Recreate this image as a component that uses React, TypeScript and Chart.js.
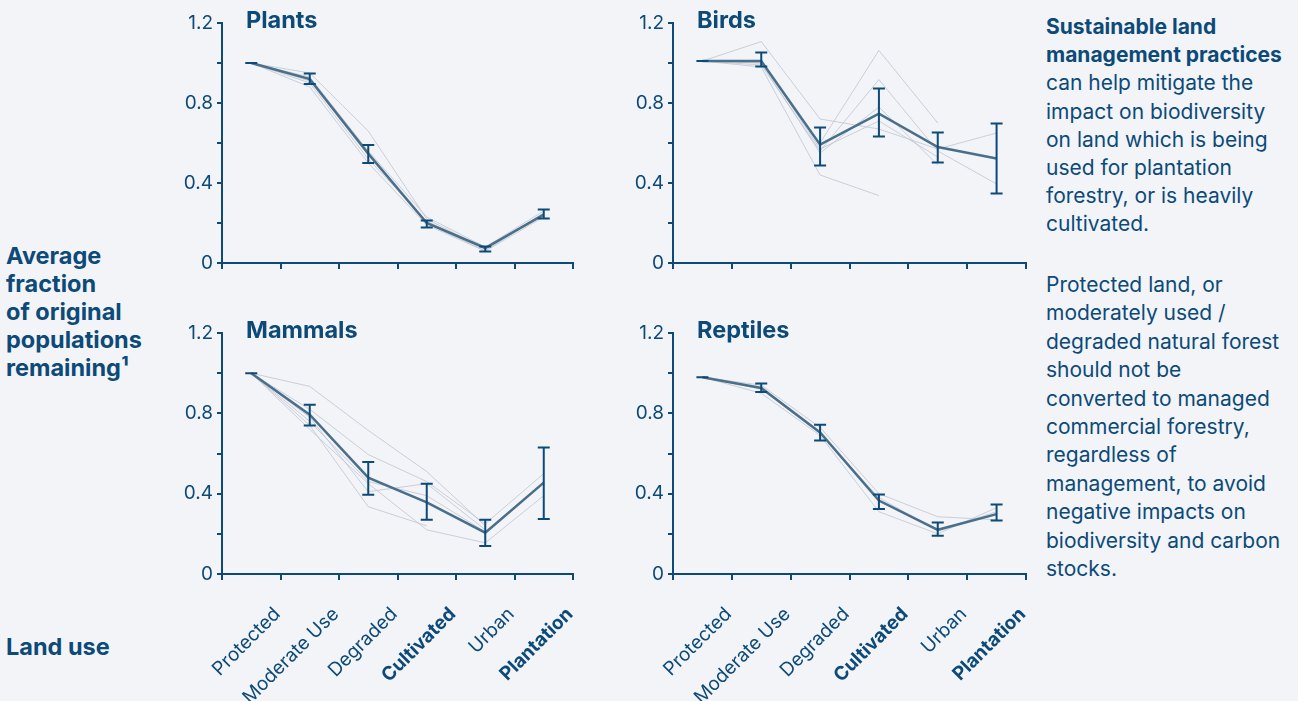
import React, { useEffect, useRef } from 'react';
import { Chart, registerables } from 'chart.js';
Chart.register(...registerables);

const NAVY = '#0d4a78';
const MAIN = '#4a6f8b';
const GRAY = 'rgba(188,194,205,0.75)';
const BG = '#f2f4f8';

const categories = ['Protected', 'Moderate Use', 'Degraded', 'Cultivated', 'Urban', 'Plantation'];
const boldCategories = ['Cultivated', 'Plantation'];
const yLabeledTicks = [0, 0.4, 0.8, 1.2];

// Plants
const plantsMean = [1.0, 0.92, 0.547, 0.2, 0.075, 0.242];
const plantsLow = [1.0, 0.895, 0.5, 0.177, 0.058, 0.222];
const plantsHigh = [1.0, 0.947, 0.59, 0.213, 0.083, 0.267];
const plantsG1 = [1.0, 0.95, 0.66, 0.22, 0.07, 0.25];
const plantsG2 = [1.0, 0.93, 0.56, 0.23, 0.08, 0.26];
const plantsG3 = [1.0, 0.9, 0.52, 0.21, 0.07, 0.24];
const plantsG4 = [1.0, 0.88, 0.5, 0.19, 0.06, 0.23];
const plantsG5 = [1.0, 0.91, 0.54, 0.2, 0.06, 0.25];

// Birds
const birdsMean = [1.01, 1.01, 0.592, 0.747, 0.58, 0.523];
const birdsLow = [1.01, 0.983, 0.488, 0.633, 0.502, 0.348];
const birdsHigh = [1.01, 1.053, 0.678, 0.872, 0.653, 0.698];
const birdsG1 = [1.01, 1.107, 0.72, 0.67, 0.57, 0.65];
const birdsG2 = [1.01, 0.98, 0.44, 0.337, null, null];
const birdsG3 = [1.01, 1.0, 0.6, 1.063, 0.7, null];
const birdsG4 = [1.01, 0.99, 0.56, 0.917, 0.56, 0.395];
const birdsG5 = [1.01, 1.0, 0.55, 0.78, 0.49, null];
const birdsG6 = [1.01, 1.01, 0.57, 0.71, 0.53, null];

// Mammals
const mammalsMean = [1.0, 0.793, 0.48, 0.357, 0.206, 0.455];
const mammalsLow = [1.0, 0.74, 0.394, 0.27, 0.14, 0.274];
const mammalsHigh = [1.0, 0.843, 0.558, 0.45, 0.27, 0.63];
const mammalsG1 = [1.0, 0.934, 0.715, 0.51, 0.24, null];
const mammalsG2 = [1.0, 0.82, 0.595, 0.46, 0.25, 0.5];
const mammalsG3 = [1.0, 0.78, 0.41, 0.45, 0.22, null];
const mammalsG4 = [1.0, 0.74, 0.335, 0.24, null, null];
const mammalsG5 = [1.0, 0.72, 0.45, 0.22, 0.155, 0.39];
const mammalsG6 = [1.0, 0.76, 0.46, 0.39, 0.21, 0.46];

// Reptiles
const reptilesMean = [0.98, 0.926, 0.705, 0.366, 0.22, 0.298];
const reptilesLow = [0.98, 0.906, 0.665, 0.324, 0.19, 0.266];
const reptilesHigh = [0.98, 0.949, 0.743, 0.396, 0.256, 0.346];
const reptilesG1 = [0.98, 0.94, 0.73, 0.4, 0.285, 0.27];
const reptilesG2 = [0.98, 0.9, 0.69, 0.31, 0.2, 0.33];
const reptilesG3 = [0.98, 0.92, 0.7, 0.38, 0.215, 0.31];

const errorBarPlugin = {
  id: 'errorBars',
  afterDatasetsDraw(chart: any, _args: any, opts: any) {
    const low = opts.low as number[];
    const high = opts.high as number[];
    if (!low || !high) return;
    const ctx = chart.ctx;
    const xs = chart.scales.x;
    const ys = chart.scales.y;
    ctx.save();
    ctx.strokeStyle = NAVY;
    ctx.lineWidth = 2;
    for (let i = 0; i < low.length; i++) {
      const x = xs.getPixelForValue(i);
      const y1 = ys.getPixelForValue(low[i]);
      const y2 = ys.getPixelForValue(high[i]);
      ctx.beginPath();
      ctx.moveTo(x, y1);
      ctx.lineTo(x, y2);
      ctx.moveTo(x - 6, y1);
      ctx.lineTo(x + 6, y1);
      ctx.moveTo(x - 6, y2);
      ctx.lineTo(x + 6, y2);
      ctx.stroke();
    }
    ctx.restore();
  },
};

type PanelProps = {
  title: string;
  left: number;
  top: number;
  width: number;
  height: number;
  yWidth: number;
  padTop: number;
  padRight: number;
  xHeight: number;
  showLabels: boolean;
  mean: number[];
  low: number[];
  high: number[];
  grays: (number | null)[][];
};

function Panel(p: PanelProps) {
  const ref = useRef<HTMLCanvasElement>(null);
  useEffect(() => {
    if (!ref.current) return;
    const chart = new Chart(ref.current, {
      type: 'line',
      data: {
        labels: categories,
        datasets: [
          {
            data: p.mean,
            borderColor: MAIN,
            borderWidth: 2.5,
            pointRadius: 0,
            tension: 0,
          },
          ...p.grays.map((g) => ({
            data: g,
            borderColor: GRAY,
            borderWidth: 1,
            pointRadius: 0,
            tension: 0,
            spanGaps: false,
          })),
        ],
      },
      options: {
        animation: false,
        responsive: false,
        maintainAspectRatio: false,
        events: [],
        layout: { padding: { left: 0, top: p.padTop, right: p.padRight, bottom: 0 } },
        plugins: {
          legend: { display: false },
          tooltip: { enabled: false },
          errorBars: { low: p.low, high: p.high },
        } as any,
        scales: {
          x: {
            type: 'category',
            offset: true,
            grid: {
              display: true,
              drawOnChartArea: false,
              offset: true,
              tickLength: 6,
              color: NAVY,
              lineWidth: 2,
            },
            border: { display: true, color: NAVY, width: 2 },
            ticks: {
              display: p.showLabels,
              autoSkip: false,
              minRotation: 45,
              maxRotation: 45,
              labelOffset: 26,
              padding: 23,
              color: NAVY,
              font: (ctx: any) => ({
                family: 'Inter',
                size: 19,
                weight: boldCategories.includes(categories[ctx.index]) ? 'bold' : 'normal',
              }),
            },
            afterFit: (s: any) => {
              s.height = p.xHeight;
            },
          },
          y: {
            min: 0,
            max: 1.2,
            grid: {
              display: true,
              drawOnChartArea: false,
              tickLength: 5,
              color: NAVY,
              lineWidth: 2,
            },
            border: { display: true, color: NAVY, width: 2 },
            ticks: {
              stepSize: 0.2,
              padding: 4,
              color: NAVY,
              font: { family: 'Inter', size: 19 },
              callback: (v: any) => {
                const n = Number(v);
                const hit = yLabeledTicks.find((t) => Math.abs(t - n) < 1e-6);
                if (hit === undefined) return '';
                return hit === 0 ? '0' : hit.toFixed(1);
              },
            },
            afterFit: (s: any) => {
              s.width = p.yWidth;
            },
          },
        },
      },
      plugins: [errorBarPlugin as any],
    });
    return () => chart.destroy();
  }, []);
  return (
    <>
      <canvas
        ref={ref}
        width={p.width}
        height={p.height}
        style={{ position: 'absolute', left: p.left, top: p.top, width: p.width, height: p.height }}
      />
      <div
        style={{
          position: 'absolute',
          left: p.left + p.yWidth + 24,
          top: p.top + p.padTop - 15,
          fontSize: 23.5,
          lineHeight: '24px',
          fontWeight: 700,
          whiteSpace: 'nowrap',
        }}
      >
        {p.title}
      </div>
    </>
  );
}

export default function App() {
  return (
    <div
      style={{
        position: 'fixed',
        left: 0,
        top: 0,
        width: 1298,
        height: 701,
        background: BG,
        color: NAVY,
        fontFamily: 'Inter, sans-serif',
        overflow: 'hidden',
      }}
    >
      <div
        style={{
          position: 'absolute',
          left: 6,
          top: 242,
          fontSize: 23.5,
          lineHeight: '28px',
          fontWeight: 700,
          whiteSpace: 'nowrap',
        }}
      >
        Average
        <br />
        fraction
        <br />
        of original
        <br />
        populations
        <br />
        remaining¹
      </div>
      <div
        style={{
          position: 'absolute',
          left: 6,
          top: 633,
          fontSize: 23.5,
          lineHeight: '28px',
          fontWeight: 700,
          whiteSpace: 'nowrap',
        }}
      >
        Land use
      </div>

      <Panel
        title="Plants"
        left={150}
        top={0}
        width={440}
        height={290}
        yWidth={72}
        padTop={23}
        padRight={17}
        xHeight={27}
        showLabels={false}
        mean={plantsMean}
        low={plantsLow}
        high={plantsHigh}
        grays={[plantsG1, plantsG2, plantsG3, plantsG4, plantsG5]}
      />
      <Panel
        title="Birds"
        left={600}
        top={0}
        width={440}
        height={290}
        yWidth={73}
        padTop={23}
        padRight={14}
        xHeight={27}
        showLabels={false}
        mean={birdsMean}
        low={birdsLow}
        high={birdsHigh}
        grays={[birdsG1, birdsG2, birdsG3, birdsG4, birdsG5, birdsG6]}
      />
      <Panel
        title="Mammals"
        left={150}
        top={300}
        width={440}
        height={401}
        yWidth={72}
        padTop={33}
        padRight={17}
        xHeight={127}
        showLabels={true}
        mean={mammalsMean}
        low={mammalsLow}
        high={mammalsHigh}
        grays={[mammalsG1, mammalsG2, mammalsG3, mammalsG4, mammalsG5, mammalsG6]}
      />
      <Panel
        title="Reptiles"
        left={600}
        top={300}
        width={440}
        height={401}
        yWidth={73}
        padTop={33}
        padRight={14}
        xHeight={127}
        showLabels={true}
        mean={reptilesMean}
        low={reptilesLow}
        high={reptilesHigh}
        grays={[reptilesG1, reptilesG2, reptilesG3]}
      />

      <div
        style={{
          position: 'absolute',
          left: 1046,
          top: 13,
          fontSize: 21,
          lineHeight: '28.2px',
          whiteSpace: 'nowrap',
        }}
      >
        <b>Sustainable land</b>
        <br />
        <b>management practices</b>
        <br />
        can help mitigate the
        <br />
        impact on biodiversity
        <br />
        on land which is being
        <br />
        used for plantation
        <br />
        forestry, or is heavily
        <br />
        cultivated.
      </div>
      <div
        style={{
          position: 'absolute',
          left: 1046,
          top: 271,
          fontSize: 21,
          lineHeight: '28.4px',
          whiteSpace: 'nowrap',
        }}
      >
        Protected land, or
        <br />
        moderately used /
        <br />
        degraded natural forest
        <br />
        should not be
        <br />
        converted to managed
        <br />
        commercial forestry,
        <br />
        regardless of
        <br />
        management, to avoid
        <br />
        negative impacts on
        <br />
        biodiversity and carbon
        <br />
        stocks.
      </div>
    </div>
  );
}
